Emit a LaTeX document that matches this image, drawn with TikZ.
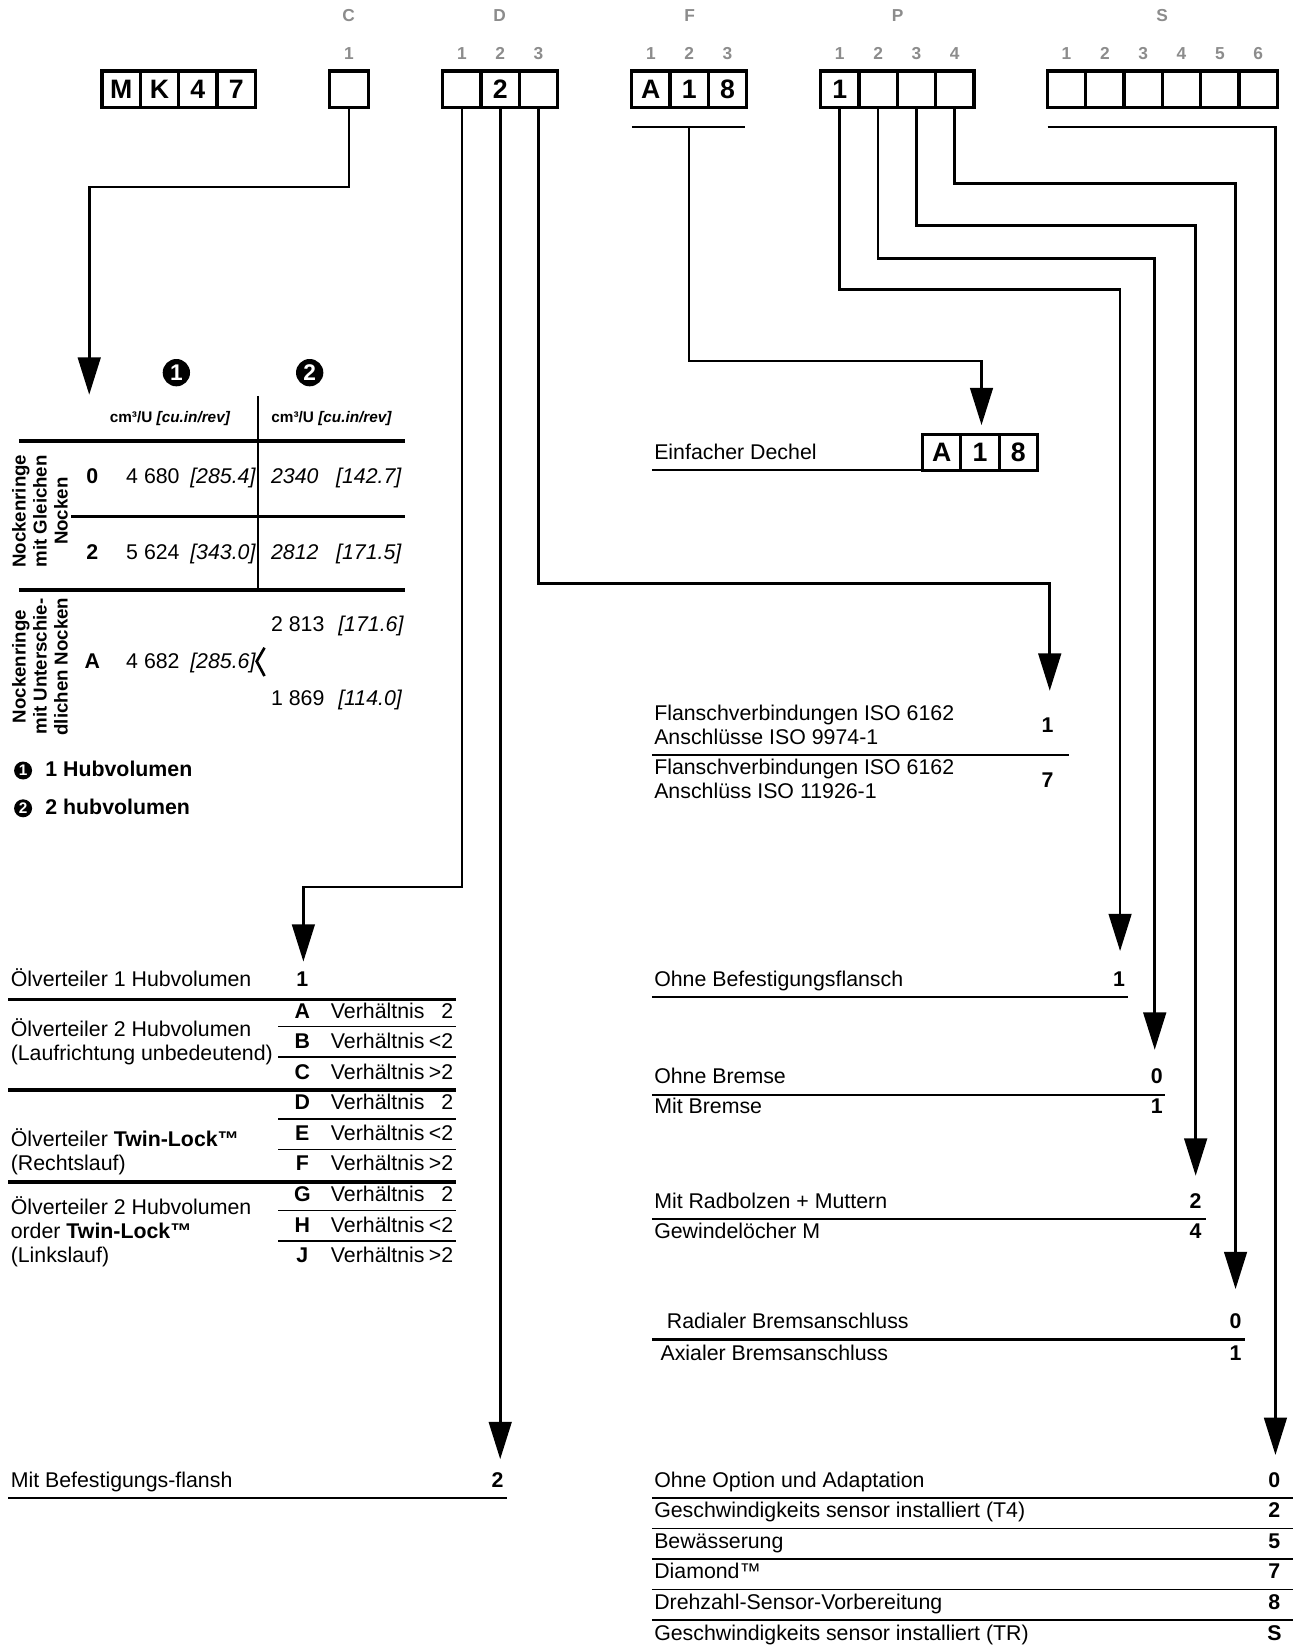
\documentclass[tikz,border=0pt]{standalone}
\usepackage{fontspec}
\setmainfont{Liberation Sans}
\usetikzlibrary{arrows.meta}
\begin{document}
\begin{tikzpicture}[x=0.78765pt,y=-0.78765pt,
  conn/.style={line width=2pt, line join=miter},
  arr/.style={-{Triangle[width=17pt,length=28pt]}},
  cell/.style={draw, line width=2.4pt, minimum width=28.75pt, minimum height=27.5pt, inner sep=0pt, font=\fontsize{20}{20}\selectfont\bfseries},
  hdr/.style={text=black!45, font=\fontsize{13}{13}\selectfont\bfseries, inner sep=0pt},
  t/.style={font=\fontsize{16}{19}\selectfont, inner sep=0pt, anchor=base west},
  ti/.style={t, font=\fontsize{16}{19}\selectfont\itshape},
  tb/.style={font=\fontsize{16}{19}\selectfont\bfseries, inner sep=0pt, anchor=base},
  tbl/.style={font=\fontsize{16}{19}\selectfont\bfseries, inner sep=0pt, anchor=base west},
  rthin/.style={line width=1.2pt},
  rmid/.style={line width=1.8pt},
  rthick/.style={line width=3pt},
  dot/.style={circle, fill=black, inner sep=0pt, text=white, minimum size=20.5pt, font=\fontsize{17}{17}\selectfont\bfseries},
  sdot/.style={circle, fill=black, inner sep=0pt, text=white, minimum size=13.5pt, font=\fontsize{11.5}{11.5}\selectfont\bfseries},
]
\useasboundingbox (0,0) rectangle (1236,1568);

% ---------- top headers ----------
\node[hdr] (lC) at (332,15) {C};
\node[hdr] (lD) at (476,15) {D};
\node[hdr] (lF) at (657,15) {F};
\node[hdr] (lP) at (855,15) {P};
\node[hdr] (lS) at (1107,15) {S};

\node[hdr] (nC1) at (332.5,51) {1};
\foreach \i in {1,2,3} \node[hdr] (nD\i) at ({440+36.5*(\i-1)},51) {\i};
\foreach \i in {1,2,3} \node[hdr] (nF\i) at ({620+36.5*(\i-1)},51) {\i};
\foreach \i in {1,2,3,4} \node[hdr] (nP\i) at ({800+36.5*(\i-1)},51) {\i};
\foreach \i in {1,...,6} \node[hdr] (nS\i) at ({1016+36.5*(\i-1)},51) {\i};

% ---------- code boxes ----------
\foreach \i/\c in {1/M,2/K,3/4,4/7} \node[cell] (mk\i) at ({115.5+36.5*(\i-1)},85) {\c};
\node[cell] (c1) at (332.5,85) {};
\foreach \i/\c in {1/,2/2,3/} \node[cell] (d\i) at ({440+36.5*(\i-1)},85) {\c};
\foreach \i/\c in {1/A,2/1,3/8} \node[cell] (f\i) at ({620+36.5*(\i-1)},85) {\c};
\foreach \i/\c in {1/1,2/,3/,4/} \node[cell] (p\i) at ({800+36.5*(\i-1)},85) {\c};
\foreach \i in {1,...,6} \node[cell] (s\i) at ({1016+36.5*(\i-1)},85) {};

% ---------- connectors ----------
\coordinate (tipC) at (85,376);
\coordinate (tipD1) at (289,916);
\coordinate (tipD2) at (476.5,1390);
\coordinate (tipD3) at (1000,658);
\coordinate (tipF) at (935,405);
\coordinate (tipP1) at (1067,906);
\coordinate (tipP2) at (1100,1000);
\coordinate (tipP3) at (1139,1120);
\coordinate (tipP4) at (1177,1228);
\coordinate (tipS) at (1215,1386);
\coordinate (fbL) at (602,121);
\coordinate (fbR) at (710,121);
\coordinate (fbM) at (656.5,121);
\coordinate (sbL) at (998,121);

\draw[conn,arr] (c1.south) |- (tipC |- 0,178) -- (tipC);
\draw[conn,arr] (d1.south) |- (tipD1 |- 0,845) -- (tipD1);
\draw[conn,arr] (d2.south) -- (tipD2);
\draw[conn,arr] (d3.south) |- (tipD3 |- 0,556) -- (tipD3);
\draw[conn] (fbL) -- (fbR);
\draw[conn,arr] (fbM) |- (tipF |- 0,344) -- (tipF);
\draw[conn,arr] (p1.south) |- (tipP1 |- 0,276) -- (tipP1);
\draw[conn,arr] (p2.south) |- (tipP2 |- 0,246) -- (tipP2);
\draw[conn,arr] (p3.south) |- (tipP3 |- 0,215) -- (tipP3);
\draw[conn,arr] (p4.south) |- (tipP4 |- 0,175) -- (tipP4);
\draw[conn,arr] (sbL) -| (tipS);

% ---------- displacement table ----------
\node[dot] (k1) at (168,355) {1};
\node[dot] (k2) at (295,355) {2};
\draw[rmid] (246,377) -- (246,562);
\node[font=\fontsize{11.5}{12}\selectfont\bfseries, inner sep=0pt] (h1) at (162,399) {cm³/U \textit{[cu.in/rev]}};
\node[font=\fontsize{11.5}{12}\selectfont\bfseries, inner sep=0pt] (h2) at (316,399) {cm³/U \textit{[cu.in/rev]}};
\draw[rthick] (18,420) -- (386,420);
\draw[rmid] (68,492) -- (386,492);
\draw[rthick] (18,562) -- (386,562);

\node[tb] (r0) at (88,461) {0};
\node[t] (r0a) at (120,461) {4 680};
\node[ti] (r0b) at (181,461) {[285.4]};
\node[ti] (r0c) at (258,461) {2340};
\node[ti] (r0d) at (320,461) {[142.7]};

\node[tb] (r2) at (88,533) {2};
\node[t] (r2a) at (120,533) {5 624};
\node[ti] (r2b) at (181,533) {[343.0]};
\node[ti] (r2c) at (258,533) {2812};
\node[ti] (r2d) at (320,533) {[171.5]};

\node[tb] (rA) at (88,637) {A};
\node[t] (rAa) at (120,637) {4 682};
\node[ti] (rAb) at (181,637) {[285.6]};
\draw[line width=2pt] (252,617) -- (244.5,630) -- (252,644);
\node[t] (rAc) at (258,602) {2 813};
\node[ti] (rAd) at (322,602) {[171.6]};
\node[t] (rAe) at (258,672) {1 869};
\node[ti] (rAf) at (322,672) {[114.0]};

\node[rotate=90, align=center, font=\fontsize{14}{15.8}\selectfont\bfseries, inner sep=0pt] (rot1) at (38,487) {Nockenringe\\mit Gleichen\\Nocken};
\node[rotate=90, align=center, font=\fontsize{14}{15.8}\selectfont\bfseries, inner sep=0pt] (rot2) at (38,635) {Nockenringe\\mit Unterschie-\\dlichen Nocken};

\node[sdot] (lg1) at (22,734) {1};
\node[tbl] (lg1t) at (43,740) {1 Hubvolumen};
\node[sdot] (lg2) at (22,770) {2};
\node[tbl] (lg2t) at (43,776) {2 hubvolumen};

% ---------- distributor table ----------
\node[t] (o1) at (10,940) {Ölverteiler 1 Hubvolumen};
\node[tb] (o1v) at (288,940) {1};
\draw[rmid] (8,952) -- (434,952);
\foreach \L/\yy/\v in {A/963/2, B/992/<2, C/1021/>2, D/1050/2, E/1079/<2, F/1108/>2, G/1138/2, H/1167/<2, J/1196/>2} {
  \node[tb] (ol\L) at (288,\yy+7) {\L};
  \node[t] (ov\L) at (315,\yy+7) {Verhältnis};
  \node[t, anchor=base east] (ox\L) at (432,\yy+7) {\v};
}
\foreach \yy in {978,1007,1066,1095,1153,1182} \draw[rthin] (265,\yy) -- (434,\yy);
\draw[rthick] (8,1038) -- (434,1038);
\draw[rthick] (8,1126) -- (434,1126);
\node[t] (g2a) at (10,987) {Ölverteiler 2 Hubvolumen};
\node[t] (g2b) at (10,1010) {(Laufrichtung unbedeutend)};
\node[t] (g3a) at (10,1092) {Ölverteiler \textbf{Twin-Lock™}};
\node[t] (g3b) at (10,1115) {(Rechtslauf)};
\node[t] (g4a) at (10,1157) {Ölverteiler 2 Hubvolumen};
\node[t] (g4b) at (10,1180) {order \textbf{Twin-Lock™}};
\node[t] (g4c) at (10,1203) {(Linkslauf)};

\node[t] (mbf) at (10,1417) {Mit Befestigungs-flansh};
\node[tb] (mbfv) at (474,1417) {2};
\draw[rmid] (8,1427) -- (483,1427);

% ---------- right side ----------
\node[t] (ed) at (623,438) {Einfacher Dechel};
\draw[rmid] (621,448) -- (878,448);
\foreach \i/\c in {1/A,2/1,3/8} \node[cell] (g\i) at ({897+36.5*(\i-1)},431) {\c};

\node[t] (fl1a) at (623,686) {Flanschverbindungen ISO 6162};
\node[t] (fl1b) at (623,709) {Anschlüsse ISO 9974-1};
\node[tb] (fl1v) at (998,698) {1};
\draw[rthin] (621,719) -- (1018,719);
\node[t] (fl2a) at (623,738) {Flanschverbindungen ISO 6162};
\node[t] (fl2b) at (623,761) {Anschlüss ISO 11926-1};
\node[tb] (fl2v) at (998,750) {7};

\node[t] (ob) at (623,940) {Ohne Befestigungsflansch};
\node[tb] (obv) at (1066,940) {1};
\draw[rmid] (621,950) -- (1075,950);

\node[t] (br0) at (623,1032) {Ohne Bremse};
\node[tb] (br0v) at (1102,1032) {0};
\draw[rmid] (621,1043) -- (1110,1043);
\node[t] (br1) at (623,1061) {Mit Bremse};
\node[tb] (br1v) at (1102,1061) {1};

\node[t] (rb2) at (623,1151) {Mit Radbolzen + Muttern};
\node[tb] (rb2v) at (1139,1151) {2};
\draw[rmid] (621,1161) -- (1149,1161);
\node[t] (rb4) at (623,1180) {Gewindelöcher M};
\node[tb] (rb4v) at (1139,1180) {4};

\node[t] (ba0) at (635,1266) {Radialer Bremsanschluss};
\node[tb] (ba0v) at (1177,1266) {0};
\draw[rmid] (621,1276) -- (1186,1276);
\node[t] (ba1) at (629,1296) {Axialer Bremsanschluss};
\node[tb] (ba1v) at (1177,1296) {1};

\foreach \n/\yy/\txt/\v in {1/1410/Ohne Option und Adaptation/0, 2/1439/Geschwindigkeits sensor installiert (T4)/2, 3/1468/Bewässerung/5, 4/1497/Diamond™/7, 5/1526/Drehzahl-Sensor-Vorbereitung/8, 6/1556/Geschwindigkeits sensor installiert (TR)/S} {
  \node[t] (op\n) at (623,\yy+7) {\txt};
  \node[tb] (opv\n) at (1214,\yy+7) {\v};
}
\foreach \yy in {1427,1456,1485,1514,1543} \draw[rthin] (621,\yy) -- (1232,\yy);
\end{tikzpicture}
\end{document}
